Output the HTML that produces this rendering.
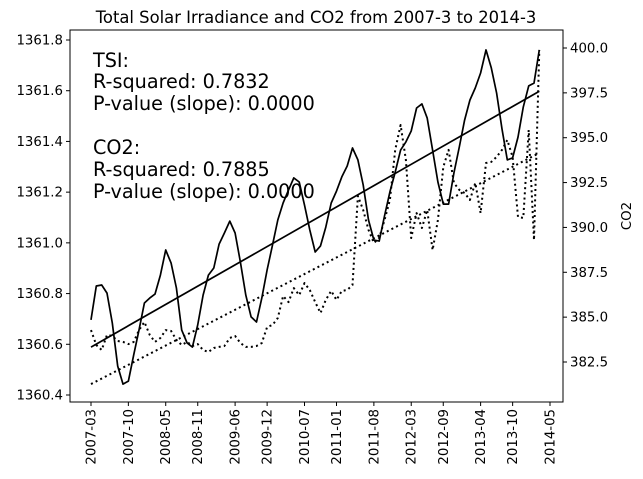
<!DOCTYPE html>
<html><head><meta charset="utf-8"><style>
body{margin:0;background:#fff;}
svg{display:block;font-family:"DejaVu Sans","Liberation Sans",sans-serif;}
</style></head><body>
<svg id="chart" width="643" height="479" viewBox="0 0 643 479" xmlns="http://www.w3.org/2000/svg">
<rect width="643" height="479" fill="#fff"/>
<text x="316" y="23" font-size="16.4" text-anchor="middle">Total Solar Irradiance and CO2 from 2007-3 to 2014-3</text>
<g id="marks"></g>
<rect x="70" y="30" width="493" height="372" fill="none" stroke="#000" stroke-width="1"/>
<g id="axes"></g>
<g font-size="19.2">
<text x="93" y="67">TSI:</text>
<text x="93" y="88">R-squared: 0.7832</text>
<text x="93" y="110">P-value (slope): 0.0000</text>
<text x="93" y="154">CO2:</text>
<text x="93" y="176">R-squared: 0.7885</text>
<text x="93" y="198">P-value (slope): 0.0000</text>
</g>
<text transform="translate(631,216) rotate(-90)" font-size="13.3" text-anchor="middle">CO2</text>
</svg>
<script>
const xTickLabels=["2007-03","2007-10","2008-05","2008-11","2009-06","2009-12","2010-07","2011-01","2011-08","2012-03","2012-09","2013-04","2013-10","2014-05"];
const xTickIdx=[0,7,14,20,27,33,40,46,53,60,66,73,79,86];
const leftTicks=[1360.4,1360.6,1360.8,1361.0,1361.2,1361.4,1361.6,1361.8];
const rightTicks=[382.5,385.0,387.5,390.0,392.5,395.0,397.5,400.0];
const tsi=[1360.696,1360.830,1360.834,1360.802,1360.684,1360.514,1360.443,1360.455,1360.558,1360.656,1360.763,1360.782,1360.798,1360.873,1360.972,1360.920,1360.822,1360.656,1360.605,1360.589,1360.676,1360.794,1360.873,1360.901,1360.995,1361.039,1361.086,1361.039,1360.924,1360.794,1360.708,1360.688,1360.782,1360.893,1360.991,1361.090,1361.157,1361.208,1361.256,1361.240,1361.149,1361.051,1360.964,1360.988,1361.062,1361.157,1361.204,1361.260,1361.303,1361.374,1361.327,1361.228,1361.090,1361.011,1361.007,1361.106,1361.201,1361.279,1361.366,1361.398,1361.441,1361.532,1361.548,1361.492,1361.366,1361.240,1361.153,1361.153,1361.275,1361.378,1361.484,1361.563,1361.611,1361.670,1361.761,1361.690,1361.591,1361.449,1361.327,1361.335,1361.417,1361.536,1361.619,1361.630,1361.761];
const co2=[384.28,383.45,383.17,384.01,383.95,383.67,383.62,383.50,383.62,384.28,384.73,384.01,383.62,383.84,384.28,384.23,383.73,383.45,383.62,383.39,383.50,383.17,383.06,383.28,383.34,383.39,383.84,383.95,383.56,383.34,383.34,383.39,383.56,384.45,384.56,384.95,386.18,385.84,386.62,386.23,386.90,386.51,385.84,385.23,385.96,386.46,385.96,386.46,386.51,386.79,391.75,390.97,389.86,389.13,389.41,390.41,391.53,394.32,395.71,393.76,389.41,390.80,389.97,390.97,388.74,390.41,393.37,394.32,392.48,392.09,391.92,391.53,392.48,390.80,393.59,393.65,393.93,394.32,394.87,393.93,390.58,390.53,395.43,389.30,399.89];
const tsiTrend=[1360.589,1361.598];
const co2Trend=[381.27,394.15];

const X=i=>91+i*(550-91)/86;
const YL=v=>395-(v-1360.4)*(395-40)/1.4;
const YR=v=>362-(v-382.5)*(362-48)/17.5;
const NS="http://www.w3.org/2000/svg";
const marks=document.getElementById('marks'),axes=document.getElementById('axes');
function mk(tag,attrs,parent){const e=document.createElementNS(NS,tag);for(const k in attrs)e.setAttribute(k,attrs[k]);parent.appendChild(e);return e;}
function poly(vals,yf,dash,name){
  const p=mk('polyline',{points:vals.map((v,i)=>X(i).toFixed(1)+','+yf(v).toFixed(1)).join(' '),fill:'none',stroke:'#000','stroke-width':dash?2:1.7,'stroke-dasharray':dash||'none','stroke-linejoin':'round'},marks);
  
  
}
poly(tsi,YL,null,'tsi-line');
poly(co2,YR,'2 3.2','co2-line');
function trend(t,yf,dash,name){
  const l=mk('line',{x1:X(0),y1:yf(t[0]),x2:X(tsi.length-1),y2:yf(t[1]),stroke:'#000','stroke-width':dash?2:1.7,'stroke-dasharray':dash||'none'},marks);
  
  
}
trend(tsiTrend,YL,null,'tsi-trend-line');
trend(co2Trend,YR,'2 3.2','co2-trend-line');
leftTicks.forEach(v=>{
  const y=YL(v);
  mk('line',{x1:66,x2:70,y1:y,y2:y,stroke:'#000'},axes);
  const t=mk('text',{x:63,y:y+4.5,'font-size':13.3,'text-anchor':'end'},axes);
  t.textContent=v.toFixed(1);
  
  
});
rightTicks.forEach(v=>{
  const y=YR(v);
  mk('line',{x1:563,x2:567,y1:y,y2:y,stroke:'#000'},axes);
  const t=mk('text',{x:570,y:y+4.5,'font-size':13.3},axes);
  t.textContent=v.toFixed(1);
  
  
});
xTickLabels.forEach((lab,k)=>{
  const x=X(xTickIdx[k]);
  mk('line',{x1:x,x2:x,y1:402,y2:406,stroke:'#000'},axes);
  const t=mk('text',{transform:`translate(${x+4.5},409) rotate(-90)`,'font-size':13.3,'text-anchor':'end'},axes);
  t.textContent=lab;
  
  
});
</script>
</body></html>
